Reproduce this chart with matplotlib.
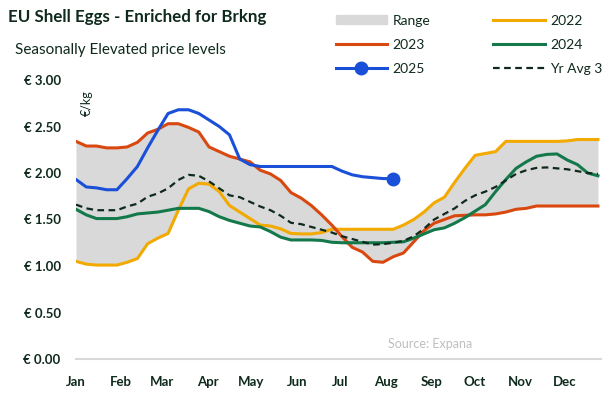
"""
    EU shell eggs (enriched for breaking) weekly price chart:
    2022-2025 against the 3 year range and 3 year average.
"""

import matplotlib
matplotlib.use("Agg")
import matplotlib.pyplot as plt
from matplotlib.legend_handler import HandlerLine2D
from matplotlib.patches import Patch
from matplotlib.lines import Line2D
import numpy as np

plt.rcParams["font.family"] = ["Lato", "DejaVu Sans"]

########################################
# data, EUR/kg per week
months = ["Jan", "Feb", "Mar", "Apr", "May", "Jun",
          "Jul", "Aug", "Sep", "Oct", "Nov", "Dec"]
month_start_day = [0, 31, 59, 90, 120, 151, 181, 212, 243, 273, 304, 334]

y2022 = [1.05, 1.02, 1.01, 1.01, 1.01, 1.04, 1.08, 1.24, 1.30, 1.35,
         1.60, 1.83, 1.89, 1.88, 1.80, 1.65, 1.58, 1.51, 1.44, 1.43,
         1.40, 1.35, 1.345, 1.345, 1.36, 1.395, 1.395, 1.395, 1.395, 1.395,
         1.395, 1.395, 1.44, 1.50, 1.58, 1.68, 1.74, 1.90, 2.05, 2.19,
         2.21, 2.23, 2.34, 2.34, 2.34, 2.34, 2.34, 2.34, 2.345, 2.36,
         2.36, 2.36]
y2023 = [2.34, 2.29, 2.29, 2.27, 2.27, 2.28, 2.33, 2.43, 2.47, 2.53,
         2.53, 2.49, 2.44, 2.28, 2.23, 2.18, 2.15, 2.12, 2.03, 1.99,
         1.92, 1.79, 1.73, 1.65, 1.55, 1.44, 1.315, 1.20, 1.15, 1.05,
         1.04, 1.10, 1.14, 1.26, 1.38, 1.46, 1.50, 1.54, 1.545, 1.55,
         1.55, 1.56, 1.58, 1.61, 1.62, 1.645, 1.645, 1.645, 1.645, 1.645,
         1.645, 1.645]
y2024 = [1.61, 1.55, 1.51, 1.51, 1.51, 1.53, 1.56, 1.57, 1.58, 1.60,
         1.62, 1.62, 1.62, 1.585, 1.53, 1.49, 1.46, 1.43, 1.42, 1.37,
         1.31, 1.28, 1.28, 1.28, 1.275, 1.255, 1.25, 1.25, 1.25, 1.25,
         1.25, 1.255, 1.26, 1.30, 1.345, 1.39, 1.41, 1.46, 1.52, 1.59,
         1.66, 1.80, 1.93, 2.05, 2.12, 2.18, 2.20, 2.205, 2.14, 2.09,
         2.00, 1.97]
y2025 = [1.93, 1.85, 1.84, 1.82, 1.82, 1.94, 2.07, 2.27, 2.46, 2.64,
         2.68, 2.68, 2.64, 2.57, 2.50, 2.41, 2.15, 2.09, 2.07, 2.07,
         2.07, 2.07, 2.07, 2.07, 2.07, 2.07, 2.02, 1.98, 1.96, 1.95,
         1.94, 1.94]
yr_avg3 = [1.66, 1.62, 1.60, 1.60, 1.60, 1.64, 1.67, 1.745, 1.78, 1.835,
           1.925, 1.98, 1.97, 1.91, 1.835, 1.76, 1.74, 1.69, 1.64, 1.60,
           1.54, 1.465, 1.45, 1.42, 1.39, 1.36, 1.32, 1.29, 1.26, 1.23,
           1.235, 1.25, 1.27, 1.32, 1.40, 1.50, 1.56, 1.62, 1.70, 1.76,
           1.80, 1.85, 1.92, 1.99, 2.03, 2.055, 2.06, 2.05, 2.04, 2.02,
           2.00, 1.99]

yticks = [0.0, 0.5, 1.0, 1.5, 2.0, 2.5, 3.0]

########################################
TEXT = "#0f2a1c"
C2022 = "#f2a900"
C2023 = "#d9480f"
C2024 = "#13794b"
C2025 = "#1a4fd8"
RANGE = "#d9d9d9"


class EndMarkerHandler(HandlerLine2D):
    # put the legend marker at the right end of the line, Excel style
    def get_xdata(self, legend, xdescent, ydescent, width, height, fontsize):
        xdata, _ = super().get_xdata(legend, xdescent, ydescent,
                                     width, height, fontsize)
        return xdata, [xdata[-1]]


weeks = np.arange(1, len(y2022) + 1)
weeks25 = np.arange(1, len(y2025) + 1)
lo = np.minimum(np.minimum(y2022, y2023), y2024)
hi = np.maximum(np.maximum(y2022, y2023), y2024)

fig = plt.figure(figsize=(6.13, 3.94), dpi=100)
ax = fig.add_axes([76 / 613, 35 / 394, 525 / 613, 279 / 394])

ax.fill_between(weeks, lo, hi, color=RANGE, lw=0, zorder=1)
ax.plot(weeks, y2022, color=C2022, lw=2.2, zorder=3)
ax.plot(weeks, y2023, color=C2023, lw=2.2, zorder=3)
ax.plot(weeks, y2024, color=C2024, lw=2.2, zorder=3)
ax.plot(weeks, yr_avg3, color=TEXT, lw=1.6, ls=(0, (3, 2)), zorder=4)
ax.plot(weeks25, y2025, color=C2025, lw=2.2, zorder=5)
ax.plot(weeks25[-1:], y2025[-1:], "o", color=C2025, ms=9, zorder=6)

ax.set_xlim(1, 52.3)
ax.set_ylim(0, 3.0)
ax.set_yticks(yticks)
ax.set_yticklabels(["€ %.2f" % v for v in yticks])
ax.set_xticks([d / 7 + 1 for d in month_start_day])
ax.set_xticklabels(months)
ax.tick_params(axis="both", length=0, colors=TEXT, labelsize=9.5)
ax.tick_params(axis="y", pad=11)
ax.tick_params(axis="x", pad=12.5)
for lab in ax.get_xticklabels() + ax.get_yticklabels():
    lab.set_fontweight("bold")
for side in ["top", "right", "left"]:
    ax.spines[side].set_visible(False)
ax.spines["bottom"].set_color(RANGE)
ax.spines["bottom"].set_linewidth(1.5)

# titles and notes
fig.text(8 / 613, 1 - 17 / 394, "EU Shell Eggs - Enriched for Brkng",
         fontsize=12.2, fontweight="bold", color=TEXT, va="center")
fig.text(15 / 613, 1 - 50 / 394, "Seasonally Elevated price levels",
         fontsize=11, color=TEXT, va="center")
fig.text(87 / 613, 1 - 103 / 394, "€/kg", fontsize=9, color=TEXT,
         rotation=90, ha="center", va="center")
fig.text(430 / 613, 1 - 344 / 394, "Source: Expana", fontsize=9,
         color="#bfbfbf", ha="center", va="center")

# legend, row-major like the original: column 1 then column 2
handles = [
    Patch(color=RANGE),
    Line2D([], [], color=C2023, lw=2.2),
    Line2D([], [], color=C2025, lw=2.2, marker="o", ms=9),
    Line2D([], [], color=C2022, lw=2.2),
    Line2D([], [], color=C2024, lw=2.2),
    Line2D([], [], color=TEXT, lw=1.6, ls=(0, (3, 2))),
]
labels = ["Range", "2023", "2025", "2022", "2024", "Yr Avg 3"]
leg = fig.legend(handles, labels, ncol=2, loc="upper left",
                 bbox_to_anchor=(330 / 613, 1 - 9 / 394),
                 frameon=False, fontsize=10, handlelength=3.7,
                 handleheight=0.6, handletextpad=0.4, columnspacing=4.55,
                 labelspacing=0.87, borderaxespad=0,
                 handler_map={handles[2]: EndMarkerHandler(numpoints=1)})
for t in leg.get_texts():
    t.set_color(TEXT)

fig.savefig("out.png", dpi=100)
